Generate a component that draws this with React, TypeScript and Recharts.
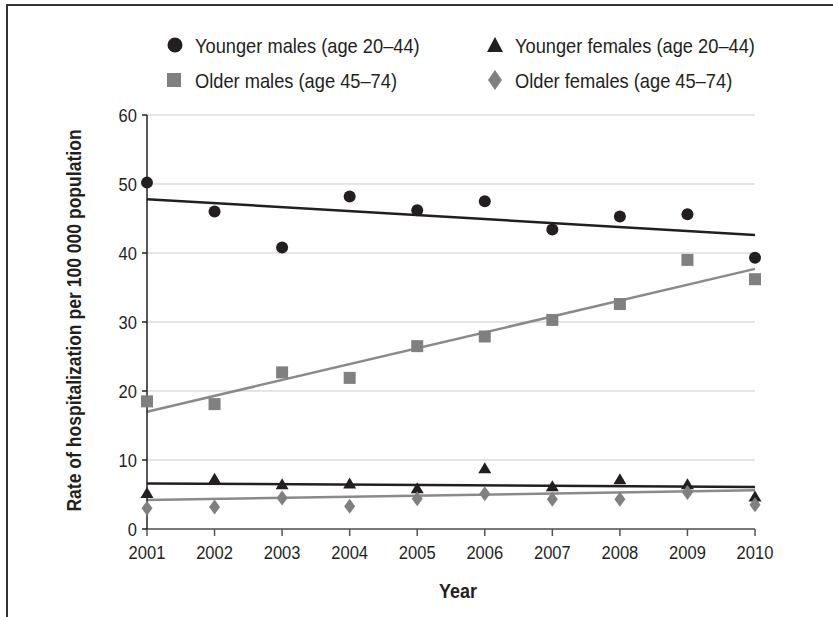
import React from 'react';
import { ComposedChart, Scatter, Line, XAxis, YAxis, CartesianGrid } from 'recharts';

const years = [2001, 2002, 2003, 2004, 2005, 2006, 2007, 2008, 2009, 2010];
const youngerMales = [50.2, 46.0, 40.8, 48.2, 46.2, 47.5, 43.4, 45.3, 45.6, 39.3];
const olderMales = [18.5, 18.1, 22.7, 21.9, 26.5, 27.9, 30.3, 32.6, 39.0, 36.2];
const youngerFemales = [5.2, 7.3, 6.5, 6.6, 5.9, 8.8, 6.2, 7.2, 6.5, 4.7];
const olderFemales = [3.0, 3.2, 4.5, 3.3, 4.4, 5.1, 4.3, 4.3, 5.3, 3.5];

// fitted trend lines, end values
const trendYears = [2001, 2010];
const youngerMalesTrend = [47.8, 42.6];
const olderMalesTrend = [17.0, 37.7];
const youngerFemalesTrend = [6.6, 6.1];
const olderFemalesTrend = [4.2, 5.6];

const yTicks = [0, 10, 20, 30, 40, 50, 60];

const DARK = '#231f20';
const GRAY = '#808082';
const FONT = '"Liberation Sans", Arial, sans-serif';
const NARROW = 0.87;

const toPoints = (vals: number[]) => years.map((year, i) => ({ year, v: vals[i] }));
const toTrend = (vals: number[]) => trendYears.map((year, i) => ({ year, v: vals[i] }));

const circleShape = (p: any) => <circle cx={p.cx} cy={p.cy} r={6} fill={DARK} />;
const squareShape = (p: any) => <rect x={p.cx - 6} y={p.cy - 6} width={12} height={12} fill={GRAY} />;
const triangleShape = (p: any) => (
  <polygon points={`${p.cx},${p.cy - 6} ${p.cx + 6.5},${p.cy + 5} ${p.cx - 6.5},${p.cy + 5}`} fill={DARK} />
);
const diamondShape = (p: any) => (
  <polygon points={`${p.cx},${p.cy - 7.5} ${p.cx + 5.5},${p.cy} ${p.cx},${p.cy + 7.5} ${p.cx - 5.5},${p.cy}`} fill={GRAY} />
);

// condensed-looking text: Liberation Sans squeezed horizontally
const Narrow = ({ x, y, size, anchor = 'start', bold = false, rotate = 0, scale = NARROW, children }: any) => (
  <text
    x={0}
    y={0}
    transform={`translate(${x},${y}) rotate(${rotate}) scale(${scale},1)`}
    textAnchor={anchor}
    style={{ fontFamily: FONT, fontSize: size, fontWeight: bold ? 'bold' : 'normal', fill: DARK }}
  >
    {children}
  </text>
);

const XTick = (p: any) => (
  <Narrow x={p.x} y={p.y + 14} size={19} anchor="middle">
    {p.payload.value}
  </Narrow>
);

const YTick = (p: any) => (
  <Narrow x={p.x} y={p.y + 7} size={19} anchor="end">
    {p.payload.value}
  </Narrow>
);

export default function App() {
  return (
    <div style={{ position: 'absolute', left: 0, top: 0, width: 833, height: 617, background: '#fff' }}>
      <div
        style={{
          position: 'absolute',
          left: 6,
          top: 4,
          width: 827,
          height: 613,
          borderTop: `2px solid #333`,
          borderLeft: `2px solid #333`,
        }}
      />
      <ComposedChart
        width={833}
        height={617}
        margin={{ top: 115, right: 78, bottom: 58, left: 87 }}
        style={{ position: 'absolute', left: 0, top: 0 }}
      >
        <CartesianGrid vertical={false} stroke="#dcdcdc" strokeWidth={1.5} />
        <XAxis
          dataKey="year"
          type="number"
          domain={[2001, 2010]}
          ticks={years}
          height={30}
          tickSize={7}
          tickMargin={9}
          axisLine={{ stroke: '#555', strokeWidth: 1.5 }}
          tickLine={{ stroke: '#555', strokeWidth: 1.5 }}
          tick={XTick}
        />
        <YAxis
          type="number"
          domain={[0, 60]}
          ticks={yTicks}
          width={60}
          tickSize={5}
          tickMargin={5}
          axisLine={{ stroke: DARK, strokeWidth: 1.5 }}
          tickLine={{ stroke: DARK, strokeWidth: 1.5 }}
          tick={YTick}
        />
        <Line data={toTrend(youngerMalesTrend)} dataKey="v" stroke={DARK} strokeWidth={2.5} dot={false} isAnimationActive={false} />
        <Line data={toTrend(olderMalesTrend)} dataKey="v" stroke="#8a8a8a" strokeWidth={2.5} dot={false} isAnimationActive={false} />
        <Line data={toTrend(youngerFemalesTrend)} dataKey="v" stroke={DARK} strokeWidth={2.5} dot={false} isAnimationActive={false} />
        <Line data={toTrend(olderFemalesTrend)} dataKey="v" stroke="#8a8a8a" strokeWidth={2.5} dot={false} isAnimationActive={false} />
        <Scatter data={toPoints(youngerMales)} dataKey="v" shape={circleShape} isAnimationActive={false} />
        <Scatter data={toPoints(olderMales)} dataKey="v" shape={squareShape} isAnimationActive={false} />
        <Scatter data={toPoints(youngerFemales)} dataKey="v" shape={triangleShape} isAnimationActive={false} />
        <Scatter data={toPoints(olderFemales)} dataKey="v" shape={diamondShape} isAnimationActive={false} />
      </ComposedChart>
      <svg width={833} height={617} style={{ position: 'absolute', left: 0, top: 0, pointerEvents: 'none' }}>
        <circle cx={175} cy={45} r={7.5} fill={DARK} />
        <Narrow x={195} y={53} size={21}>Younger males (age 20–44)</Narrow>
        <polygon points="495,37 503,52 487,52" fill={DARK} />
        <Narrow x={515} y={53} size={21}>Younger females (age 20–44)</Narrow>
        <rect x={167} y={73} width={14} height={14} fill={GRAY} />
        <Narrow x={195} y={88} size={21}>Older males (age 45–74)</Narrow>
        <polygon points="495,70 502,80 495,90 488,80" fill={GRAY} />
        <Narrow x={515} y={88} size={21}>Older females (age 45–74)</Narrow>
        <Narrow x={81} y={320.5} size={19.5} anchor="middle" bold rotate={-90} scale={0.9}>
          Rate of hospitalization per 100 000 population
        </Narrow>
        <Narrow x={458} y={598} size={19.5} anchor="middle" bold scale={0.92}>
          Year
        </Narrow>
      </svg>
    </div>
  );
}
